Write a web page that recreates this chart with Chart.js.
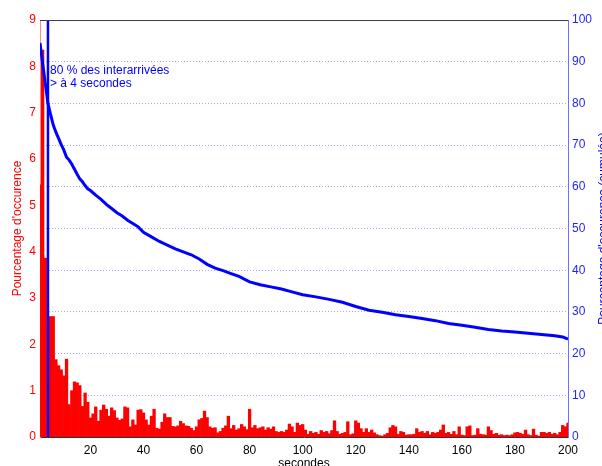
<!DOCTYPE html>
<html>
<head>
<meta charset="utf-8">
<script src="https://cdn.jsdelivr.net/npm/chart.js@4.4.1/dist/chart.umd.min.js"></script>
<style>
  html, body { margin: 0; padding: 0; background: #fff; overflow: hidden; }
  canvas { display: block; }
</style>
</head>
<body>
<canvas id="interChart" width="602" height="466"></canvas>
<script>
// histogram of inter-arrival times, one bin per second starting at 1 s
const binStart = 1;
const occurrencePct = [
    5.44, 8.35, 3.86, 2.35, 2.6, 2.6, 1.67, 1.54, 1.45, 1.32,
    1.68, 0.70, 1.0, 1.19, 1.17, 1.11, 0.66, 0.95, 0.75, 0.41,
    0.5, 0.65, 0.34, 0.58, 0.69, 0.6, 0.45, 0.63, 0.57, 0.41,
    0.36, 0.39, 0.65, 0.63, 0.22, 0.37, 0.26, 0.58, 0.59, 0.52,
    0.37, 0.26, 0.45, 0.6, 0.19, 0.17, 0.32, 0.5, 0.42, 0.42,
    0.23, 0.22, 0.24, 0.34, 0.29, 0.24, 0.23, 0.19, 0.14, 0.22,
    0.37, 0.4, 0.56, 0.42, 0.22, 0.19, 0.2, 0.09, 0.12, 0.19,
    0.24, 0.45, 0.18, 0.25, 0.15, 0.18, 0.27, 0.22, 0.16, 0.6,
    0.2, 0.25, 0.18, 0.2, 0.22, 0.15, 0.2, 0.17, 0.22, 0.12,
    0.1, 0.12, 0.1, 0.15, 0.28, 0.22, 0.1, 0.3, 0.25, 0.27,
    0.15, 0.06, 0.12, 0.08, 0.1, 0.06, 0.14, 0.1, 0.12, 0.07,
    0.14, 0.35, 0.12, 0.06, 0.08, 0.1, 0.33, 0.05, 0.07, 0.35,
    0.3, 0.18, 0.1, 0.18, 0.1, 0.15, 0.09, 0.05, 0.03, 0.02,
    0.05, 0.08, 0.2, 0.25, 0.22, 0.06, 0.12, 0.1, 0.04, 0.05,
    0.05, 0.06, 0.18, 0.1, 0.12, 0.08, 0.12, 0.05, 0.1, 0.08,
    0.1, 0.15, 0.26, 0.08, 0.1, 0.06, 0.12, 0.05, 0.22, 0.04,
    0.03, 0.22, 0.24, 0.03, 0.04, 0.18, 0.06, 0.05, 0.04, 0.22,
    0.14, 0.06, 0.08, 0.04, 0.05, 0.03, 0.04, 0.03, 0.05, 0.09,
    0.1, 0.08, 0.06, 0.15, 0.05, 0.03, 0.17, 0.04, 0.02, 0.1,
    0.1, 0.08, 0.1, 0.06, 0.08, 0.05, 0.1, 0.25, 0.22, 0.3
];

// share of inter-arrivals longer than a given time (right axis)
const cumSec = [1, 2, 3, 4, 5, 6, 7, 8, 9, 10, 11, 12, 13, 14, 15, 16, 17, 18, 19, 20,
    22, 24, 26, 28, 30, 32, 34, 36, 38, 40, 43, 46, 49, 52, 55, 58, 61, 64, 67, 70,
    73, 76, 80, 84, 88, 92, 96, 100, 105, 110, 115, 120, 125, 130, 135, 140, 145, 150,
    155, 160, 165, 170, 175, 180, 185, 190, 195, 198, 200];
const cumPct = [94.5, 89.5, 84.8, 80, 77.3, 74.8, 73.1, 71.6, 70.1, 68.8, 67.1, 66.4, 65.4, 64.2, 63.0, 61.9, 61.2, 60.3, 59.5, 59.1,
    58.0, 57.0, 55.8, 54.8, 53.8, 53.0, 52.0, 51.2, 50.4, 49.1, 48.0, 46.9, 46.0, 45.1, 44.4, 43.7, 42.7, 41.4, 40.5, 39.9,
    39.2, 38.5, 37.2, 36.5, 36.0, 35.5, 34.8, 34.1, 33.6, 33.0, 32.3, 31.3, 30.4, 29.9, 29.3, 28.9, 28.4, 27.9,
    27.2, 26.8, 26.3, 25.8, 25.4, 25.2, 24.9, 24.6, 24.3, 24.0, 23.5];

const thresholdSec = 4;
const thresholdPct = 80;

const xTicks = [20, 40, 60, 80, 100, 120, 140, 160, 180, 200];
const leftTitle = "Pourcentage d'occurence";
const rightTitle = "Pourcentage d'occurence (cumulée)";
const xTitle = 'secondes';
const noteLines = [thresholdPct + ' % des interarrivées', '> à ' + thresholdSec + ' secondes'];

const FONT = '"Liberation Sans", Arial, sans-serif';
Chart.defaults.font.family = FONT;
Chart.defaults.font.size = 12;

// frame top line, annotation and the rotated axis titles
const decorations = {
    id: 'decorations',
    afterDraw(chart) {
        const { ctx, chartArea: a, scales } = chart;
        ctx.save();
        ctx.strokeStyle = '#3c3c5a';
        ctx.lineWidth = 1;
        ctx.beginPath();
        ctx.moveTo(a.left, a.top + 0.5);
        ctx.lineTo(a.right, a.top + 0.5);
        ctx.stroke();

        ctx.font = '12px ' + FONT;
        ctx.textBaseline = 'alphabetic';
        ctx.textAlign = 'left';
        ctx.fillStyle = '#0000ff';
        const tx = scales.x.getPixelForValue(thresholdSec) + 2;
        ctx.fillText(noteLines[0], tx, a.top + 54);
        ctx.fillText(noteLines[1], tx, a.top + 67);

        const midY = (a.top + a.bottom) / 2;
        ctx.textAlign = 'center';
        ctx.save();
        ctx.translate(21, midY);
        ctx.rotate(-Math.PI / 2);
        ctx.fillStyle = '#ff0000';
        ctx.fillText(leftTitle, 0, 0);
        ctx.restore();

        ctx.save();
        ctx.translate(607, midY);
        ctx.rotate(-Math.PI / 2);
        ctx.fillStyle = '#0000ff';
        ctx.fillText(rightTitle, 0, 0);
        ctx.restore();

        ctx.fillStyle = '#000000';
        ctx.fillText(xTitle, (a.left + a.right) / 2, 467);
        ctx.restore();
    }
};

const ctx = document.getElementById('interChart').getContext('2d');

new Chart(ctx, {
    data: {
        datasets: [{
            type: 'line',
            data: cumSec.map((s, i) => ({ x: s, y: cumPct[i] })),
            yAxisID: 'y2',
            borderColor: '#0000ff',
            borderWidth: 3,
            pointRadius: 0,
            tension: 0,
            order: 0
        }, {
            type: 'line',
            data: [{ x: thresholdSec, y: 0 }, { x: thresholdSec, y: 9 }],
            yAxisID: 'y',
            borderColor: '#0000ff',
            borderWidth: 2.5,
            pointRadius: 0,
            order: 1
        }, {
            type: 'bar',
            data: occurrencePct.map((v, i) => ({ x: binStart + i, y: v })),
            yAxisID: 'y',
            backgroundColor: '#ff0000',
            borderWidth: 0,
            barPercentage: 1,
            categoryPercentage: 1,
            order: 2
        }]
    },
    options: {
        responsive: false,
        devicePixelRatio: 1,
        animation: false,
        layout: { padding: { top: 20, left: 0, right: 0, bottom: 0 } },
        plugins: {
            legend: { display: false },
            tooltip: { enabled: false }
        },
        scales: {
            x: {
                type: 'linear',
                min: 1,
                max: 200,
                offset: false,
                afterBuildTicks: (scale) => { scale.ticks = xTicks.map(v => ({ value: v })); },
                afterFit: (scale) => { scale.height = 29; },
                grid: { display: false, drawTicks: false },
                border: { color: '#333333' },
                ticks: { color: '#000000', padding: 6, maxRotation: 0, autoSkip: false }
            },
            y: {
                position: 'left',
                min: 0,
                max: 9,
                afterFit: (scale) => { scale.width = 40; },
                grid: { display: false, drawTicks: false },
                border: { color: '#ff8c8c' },
                ticks: { stepSize: 1, color: '#ff0000', padding: 4 }
            },
            y2: {
                position: 'right',
                min: 0,
                max: 100,
                afterFit: (scale) => { scale.width = 34; },
                grid: {
                    drawTicks: false,
                    color: (c) => (c.tick && (c.tick.value === 0 || c.tick.value === 100)) ? 'rgba(0,0,0,0)' : '#a8a8ff'
                },
                border: { color: '#6f6fff', dash: [1, 2] },
                ticks: { stepSize: 10, color: '#1f1fff', padding: 4 }
            }
        }
    },
    plugins: [decorations]
});
</script>
</body>
</html>
